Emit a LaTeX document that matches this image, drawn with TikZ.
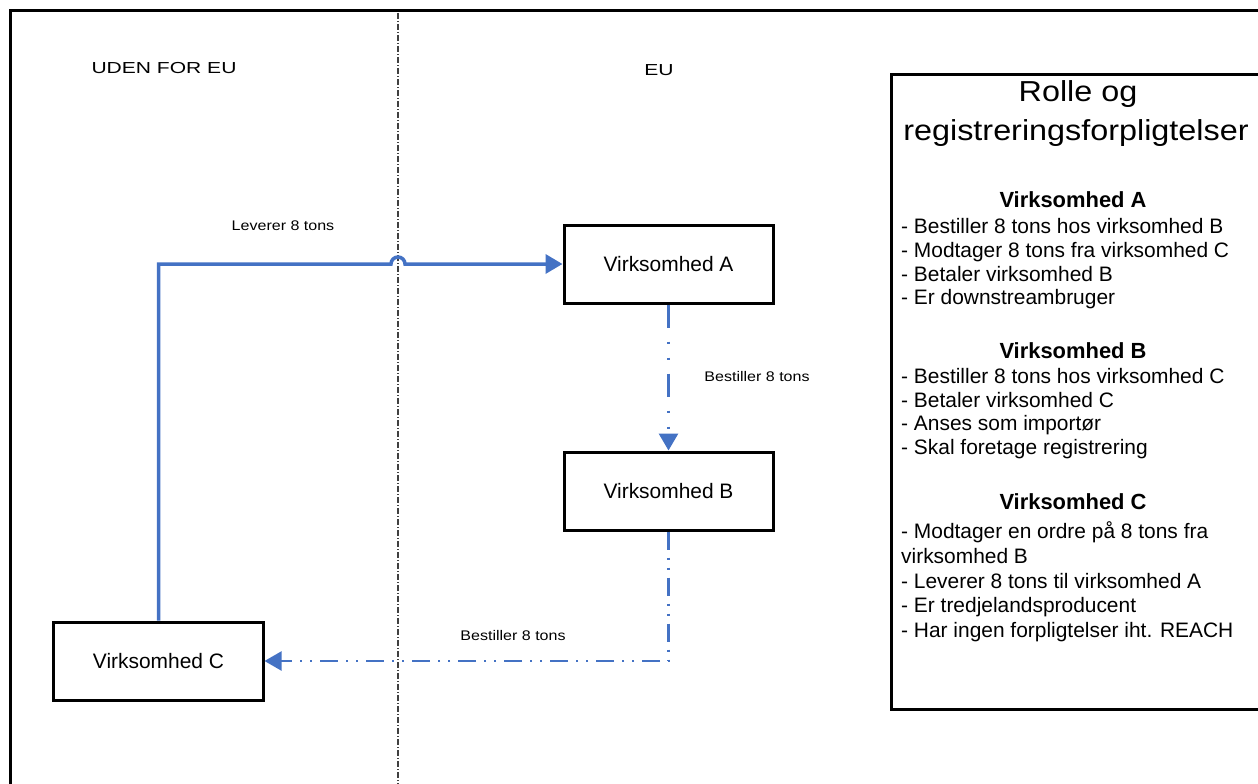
\documentclass[tikz,border=0pt]{standalone}
\usepackage{fontspec}
\setmainfont{Liberation Sans}
\newfontfamily\labelfont[FakeStretch=1.15]{Liberation Sans}
\newfontfamily\regionfont[FakeStretch=1.32]{Liberation Sans}
\newfontfamily\titlefont[FakeStretch=1.12]{Liberation Sans}
\usetikzlibrary{arrows.meta}
\definecolor{flowblue}{RGB}{68,114,196}
\definecolor{divgray}{RGB}{64,64,64}
\tikzset{
  company/.style={draw, line width=3bp, minimum width=209bp, minimum height=78bp,
    inner sep=0pt, font=\fontsize{21}{24}\selectfont},
  flowlabel/.style={anchor=base, inner sep=0pt, font=\labelfont\fontsize{14}{16}\selectfont},
  regionlabel/.style={anchor=base, inner sep=0pt, font=\regionfont\fontsize{16}{19}\selectfont},
  paneltitle/.style={anchor=base, inner sep=0pt, font=\titlefont\fontsize{29}{32}\selectfont},
  panelhead/.style={anchor=base, inner sep=0pt, font=\bfseries\fontsize{22}{24}\selectfont},
  panelitem/.style={anchor=base west, inner sep=0pt, font=\fontsize{21}{24}\selectfont},
  tip/.style={-{Triangle[length=17bp,width=19bp]}},
  delivery/.style={tip, draw=flowblue, line width=3.5bp},
  orderAB/.style={tip, draw=flowblue, line width=3bp,
    dash pattern=on 23bp off 14bp on 2bp off 14bp on 2bp off 14bp},
  orderBC/.style={tip, draw=flowblue, line width=2.2bp,
    dash pattern=on 18bp off 8bp on 2bp off 8bp on 2bp off 8bp},
  divider/.style={draw=divgray, line width=1.2bp,
    dash pattern=on 6bp off 2bp on 1bp off 2bp},
  frame/.style={draw=black, line width=3bp}
}
\begin{document}
\begin{tikzpicture}[x=1bp, y=-1bp]
  \useasboundingbox (0,0) rectangle (1258,784);

  % outer frame (runs past the right and bottom edges)
  \draw[frame] (10,800) -- (10,11) -- (1275,11);

  % border between the two regions
  \coordinate (divtop) at (398,13);
  \coordinate (divbot) at (398,790);
  \draw[divider] (divtop) -- (divbot);

  % region headings
  \node[regionlabel] (outside) at (164,74) {UDEN FOR EU};
  \node[regionlabel] (inside) at (659,76) {EU};

  % companies
  \node[company] (A) at (668.5,264) {Virksomhed A};
  \node[company] (B) at (668.5,491) {Virksomhed B};
  \node[company] (C) at (158.5,661) {Virksomhed C};

  % flows
  \coordinate (jumpL) at (391,264);
  \draw[delivery] (C.north) |- (jumpL) arc[start angle=180, end angle=0, radius=7bp] -- (A.west);
  \draw[orderAB] (A.south) -- (B.north);
  \draw[orderBC] (B.south) |- (C.east);

  \node[flowlabel] (lev) at (283,230) {Leverer 8 tons};
  \node[flowlabel] (bestAB) at (757,381) {Bestiller 8 tons};
  \node[flowlabel] (bestBC) at (513,640) {Bestiller 8 tons};

  % roles panel (runs past the right edge)
  \node[draw, line width=3bp, minimum width=390bp, minimum height=635bp, inner sep=0pt,
        anchor=north west] (panel) at (890,73) {};

  \node[paneltitle] (t1) at (1078,102) {Rolle og};
  \node[paneltitle] (t2) at (1076,140) {registreringsforpligtelser};

  \node[panelhead] (hA) at (1073,207) {Virksomhed A};
  \node[panelitem] (a1) at (901,233) {- Bestiller 8 tons hos virksomhed B};
  \node[panelitem] (a2) at (901,257) {- Modtager 8 tons fra virksomhed C};
  \node[panelitem] (a3) at (901,281) {- Betaler virksomhed B};
  \node[panelitem] (a4) at (901,304) {- Er downstreambruger};

  \node[panelhead] (hB) at (1073,358) {Virksomhed B};
  \node[panelitem] (b1) at (901,383) {- Bestiller 8 tons hos virksomhed C};
  \node[panelitem] (b2) at (901,407) {- Betaler virksomhed C};
  \node[panelitem] (b3) at (901,430) {- Anses som importør};
  \node[panelitem] (b4) at (901,454) {- Skal foretage registrering};

  \node[panelhead] (hC) at (1073,509) {Virksomhed C};
  \node[panelitem] (c1) at (901,538) {- Modtager en ordre på 8 tons fra};
  \node[panelitem] (c2) at (901,563) {virksomhed B};
  \node[panelitem] (c3) at (901,588) {- Leverer 8 tons til virksomhed A};
  \node[panelitem] (c4) at (901,612) {- Er tredjelandsproducent};
  \node[panelitem] (c5) at (901,637) {- Har ingen forpligtelser iht. REACH};
\end{tikzpicture}
\end{document}
